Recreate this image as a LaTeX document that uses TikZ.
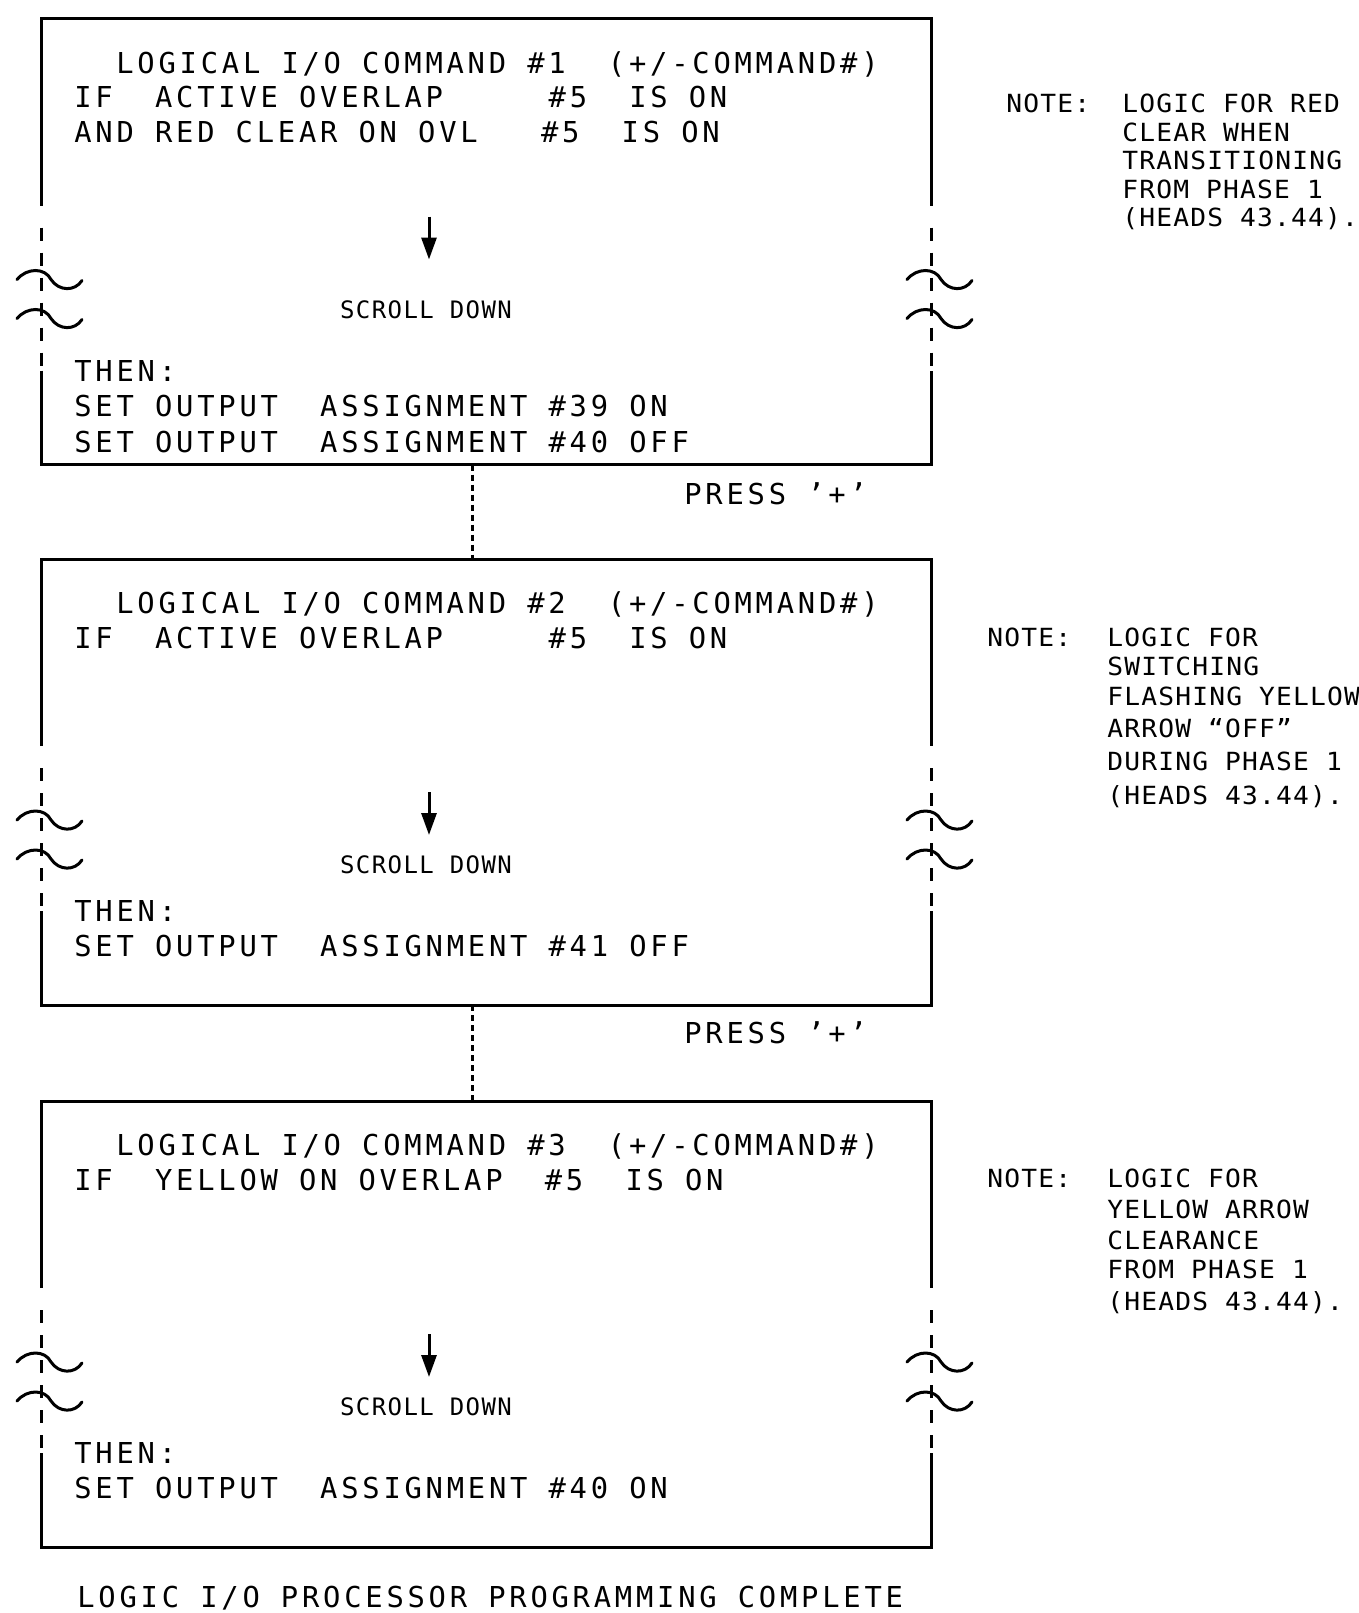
\documentclass[tikz,border=0pt]{standalone}
\usepackage{fontspec}
\usetikzlibrary{arrows.meta}
\newfontfamily\crtfont[LetterSpace=13.1]{DejaVu Sans Mono}
\newfontfamily\scrollfont[LetterSpace=6]{DejaVu Sans Mono}
\newfontfamily\notefont[LetterSpace=4.8,FakeStretch=1.05]{DejaVu Sans Mono}

\tikzset{
  boxline/.style={line width=1.5pt},
  brkside/.style={line width=1.5pt, dash pattern=on 6.5pt off 6pt},
  link/.style={line width=1.5pt, dash pattern=on 3pt off 2pt},
  crt/.style={anchor=base west, inner sep=0pt, font=\crtfont\fontsize{14.4}{17}\selectfont},
  scroll/.style={anchor=base, inner sep=0pt, font=\scrollfont\fontsize{12}{14}\selectfont},
  note/.style={anchor=base west, inner sep=0pt, font=\notefont\fontsize{12.5}{14}\selectfont},
  down/.style={line width=1.5pt, -{Triangle[width=7.5pt,length=11pt]}},
  brk/.pic={\draw[line width=1.5pt, line cap=round] (-24,0) .. controls (-14,-12) and (4,-12) .. (10,0) .. controls (18,12) and (34,12) .. (41,1);}
}

% broken screen frame: #1 name, #2 top edge
\newcommand\cmdframe[2]{%
  \coordinate (#1-top) at (472,#2);
  \coordinate (#1-bot) at (472,{#2+446});
  \draw[boxline] (41,{#2+187}) -- (41,#2) -- (931,#2) -- (931,{#2+187});
  \draw[boxline] (41,{#2+352}) -- (41,{#2+446}) -- (931,{#2+446}) -- (931,{#2+352});
  \draw[brkside] (41,{#2+209}) -- (41,{#2+352});
  \draw[brkside] (931,{#2+209}) -- (931,{#2+352});
  \pic at (41,{#2+261}) {brk};
  \pic at (41,{#2+300}) {brk};
  \pic at (931,{#2+261}) {brk};
  \pic at (931,{#2+300}) {brk};
}

\begin{document}
\begin{tikzpicture}[x=0.5pt, y=-0.5pt]
  \useasboundingbox (0,0) rectangle (1359,1613);

  % Screens:
  \cmdframe{box1}{18.5}
  \cmdframe{box2}{559}
  \cmdframe{box3}{1101}

  \draw[link] (box1-bot) -- (box2-top);
  \draw[link] (box2-bot) -- (box3-top);

  % Command 1
  \node[crt] (c1-head) at (116,73) {LOGICAL I/O COMMAND \#1~~(+/-COMMAND\#)};
  \node[crt] (c1-if) at (74,107.5) {IF~~ACTIVE OVERLAP~~~~~\#5~~IS ON};
  \node[crt] (c1-and) at (74,142) {AND RED CLEAR ON OVL~~~\#5~~IS ON};
  \coordinate (a1s) at (429,216.5);
  \coordinate (a1e) at (429,259.5);
  \draw[down] (a1s) -- (a1e);
  \node[scroll] (s1) at (426,318) {SCROLL DOWN};
  \node[crt] (c1-then) at (74,381) {THEN:};
  \node[crt] (c1-set1) at (74,416) {SET OUTPUT~~ASSIGNMENT \#39 ON};
  \node[crt] (c1-set2) at (74,452) {SET OUTPUT~~ASSIGNMENT \#40 OFF};
  \node[crt] (press1) at (684,504.5) {PRESS ’+’};

  % Command 2
  \node[crt] (c2-head) at (116,613.5) {LOGICAL I/O COMMAND \#2~~(+/-COMMAND\#)};
  \node[crt] (c2-if) at (74,648) {IF~~ACTIVE OVERLAP~~~~~\#5~~IS ON};
  \coordinate (a2s) at (429,792);
  \coordinate (a2e) at (429,835);
  \draw[down] (a2s) -- (a2e);
  \node[scroll] (s2) at (426,873.5) {SCROLL DOWN};
  \node[crt] (c2-then) at (74,921.5) {THEN:};
  \node[crt] (c2-set1) at (74,956.5) {SET OUTPUT~~ASSIGNMENT \#41 OFF};
  \node[crt] (press2) at (684,1043.5) {PRESS ’+’};

  % Command 3
  \node[crt] (c3-head) at (116,1155.5) {LOGICAL I/O COMMAND \#3~~(+/-COMMAND\#)};
  \node[crt] (c3-if) at (74,1190) {IF~~YELLOW ON OVERLAP~~\#5~~IS ON};
  \coordinate (a3s) at (429,1334);
  \coordinate (a3e) at (429,1377);
  \draw[down] (a3s) -- (a3e);
  \node[scroll] (s3) at (426,1415.5) {SCROLL DOWN};
  \node[crt] (c3-then) at (74,1463.5) {THEN:};
  \node[crt] (c3-set1) at (74,1498.5) {SET OUTPUT~~ASSIGNMENT \#40 ON};

  \node[crt] (done) at (77,1607) {LOGIC I/O PROCESSOR PROGRAMMING COMPLETE};

  % Notes
  \node[note] (note1) at (1006,112) {NOTE:};
  \foreach \n/\y/\t in {1/112/{LOGIC FOR RED}, 2/141/{CLEAR WHEN}, 3/169/{TRANSITIONING},
                        4/198/{FROM PHASE 1}, 5/226/{(HEADS 43.44).}}
    \node[note] (note1-\n) at (1122,\y) {\t};

  \node[note] (note2) at (987,646) {NOTE:};
  \foreach \n/\y/\t in {1/646/{LOGIC FOR}, 2/675/{SWITCHING}, 3/705/{FLASHING YELLOW},
                        4/737/{ARROW “OFF”}, 5/770/{DURING PHASE 1}, 6/804/{(HEADS 43.44).}}
    \node[note] (note2-\n) at (1107,\y) {\t};

  \node[note] (note3) at (987,1187) {NOTE:};
  \foreach \n/\y/\t in {1/1187/{LOGIC FOR}, 2/1218/{YELLOW ARROW}, 3/1249/{CLEARANCE},
                        4/1278/{FROM PHASE 1}, 5/1310/{(HEADS 43.44).}}
    \node[note] (note3-\n) at (1107,\y) {\t};
\end{tikzpicture}
\end{document}
